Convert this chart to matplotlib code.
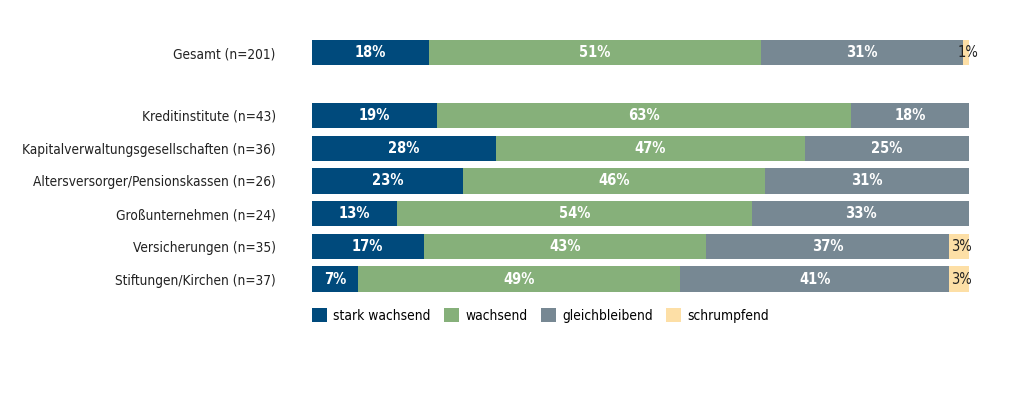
import numpy as np
import matplotlib.pyplot as plt

plt.rcParams['font.family'] = ['DejaVu Sans']
plt.rcParams['font.stretch'] = 'condensed'

categories = [
    "Gesamt (n=201)",
    "Kreditinstitute (n=43)",
    "Kapitalverwaltungsgesellschaften (n=36)",
    "Altersversorger/Pensionskassen (n=26)",
    "Großunternehmen (n=24)",
    "Versicherungen (n=35)",
    "Stiftungen/Kirchen (n=37)",
]
stark_wachsend = [18, 19, 28, 23, 13, 17, 7]
wachsend = [51, 63, 47, 46, 54, 43, 49]
gleichbleibend = [31, 18, 25, 31, 33, 37, 41]
schrumpfend = [1, 0, 0, 0, 0, 3, 3]
series_names = ["stark wachsend", "wachsend", "gleichbleibend", "schrumpfend"]
colors = ["#004a7c", "#86b07a", "#778893", "#fddfa6"]

series = np.array([stark_wachsend, wachsend, gleichbleibend, schrumpfend], dtype=float)
totals = series.sum(axis=0)
shares = series / totals * 100

# Gesamt row sits apart from the groups
ypos = np.array([6.92, 5, 4, 3, 2, 1, 0])

fig = plt.figure(figsize=(10.19, 3.95), dpi=100)
ax = fig.add_axes([0.306, 0.252, 0.645, 0.6628])

left = np.zeros(len(categories))
for i, name in enumerate(series_names):
    ax.barh(ypos, shares[i], left=left, height=0.77, color=colors[i],
            label=name, edgecolor="none")
    for j in range(len(categories)):
        v = series[i, j]
        if v <= 0:
            continue
        cx = left[j] + shares[i, j] / 2
        if v < 5:
            ax.text(cx + 0.3, ypos[j], f"{int(v)}%", ha="center", va="center",
                    color="#222222", fontsize=10.5)
        else:
            ax.text(cx, ypos[j], f"{int(v)}%", ha="center", va="center",
                    color="white", fontsize=10.5, fontweight="bold")
    left += shares[i]

ax.set_xlim(0, 100)
ax.set_ylim(-0.5, 7.5)
ax.set_yticks(ypos)
ax.set_yticklabels(categories, fontsize=9.8, color="#222222")
ax.tick_params(axis="y", length=0, pad=26)
ax.set_xticks([])
for s in ax.spines.values():
    s.set_visible(False)

fig.legend(loc="center left", bbox_to_anchor=(0.294, 0.201), ncol=4,
           frameon=False, fontsize=9.9, handlelength=1.09, handleheight=1.09,
           handletextpad=0.44, columnspacing=1.0)

fig.savefig("out.png", dpi=100)
